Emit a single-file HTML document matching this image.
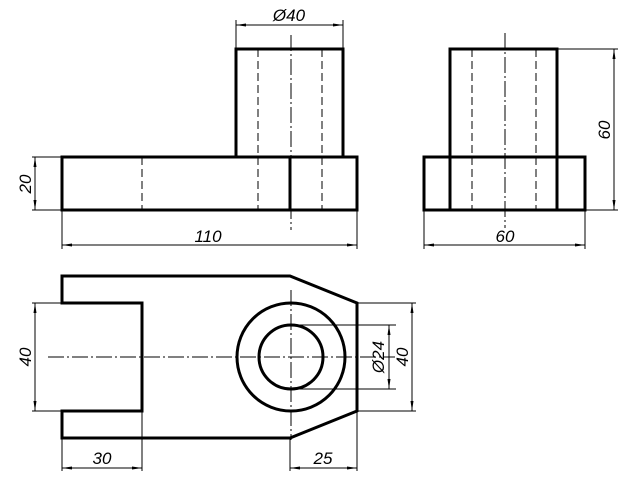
<!DOCTYPE html>
<html><head><meta charset="utf-8"><style>html,body{margin:0;padding:0;background:#fff}svg{display:block}</style></head><body>
<svg width="640" height="480" viewBox="0 0 640 480" xmlns="http://www.w3.org/2000/svg">
<defs>
<marker id="a" viewBox="0 0 10 4" refX="10" refY="2" markerWidth="10" markerHeight="4" markerUnits="userSpaceOnUse" orient="auto-start-reverse"><path d="M0,0.5 L10,2 L0,3.5 z" fill="#000"/></marker>
</defs>
<g fill="none" stroke="#000" stroke-width="3" stroke-linejoin="miter">
<rect x="62" y="157" width="295" height="53"/>
<rect x="236" y="49" width="107" height="108"/>
<line x1="290" y1="157" x2="290" y2="210"/>
<rect x="424" y="157" width="161" height="53"/>
<rect x="450" y="49" width="107" height="108"/>
<line x1="450" y1="157" x2="450" y2="210"/>
<line x1="557" y1="157" x2="557" y2="210"/>
<path d="M62,276 L290,276 L357,303 L357,411 L290,438 L62,438 L62,411 L142,411 L142,303 L62,303 Z"/>
<circle cx="291" cy="357" r="54"/>
<circle cx="291" cy="357" r="32"/>
</g>
<g fill="none" stroke="#000" stroke-width="1" stroke-dasharray="8,4">
<line x1="142" y1="157" x2="142" y2="210"/>
<line x1="258" y1="49" x2="258" y2="210"/>
<line x1="322" y1="49" x2="322" y2="210"/>
<line x1="472" y1="49" x2="472" y2="210"/>
<line x1="536" y1="49" x2="536" y2="210"/>
</g>
<g fill="none" stroke="#000" stroke-width="1" stroke-dasharray="16,3,2,3">
<line x1="291" y1="35" x2="291" y2="230"/>
<line x1="505" y1="33" x2="505" y2="228"/>
<line x1="48" y1="357" x2="395" y2="357"/>
<line x1="291" y1="290" x2="291" y2="440"/>
</g>
<g fill="none" stroke="#000" stroke-width="1">
<line x1="236" y1="20" x2="236" y2="49"/><line x1="343" y1="20" x2="343" y2="49"/>
<line x1="32" y1="157" x2="62" y2="157"/><line x1="32" y1="210" x2="62" y2="210"/>
<line x1="62" y1="210" x2="62" y2="249"/><line x1="357" y1="210" x2="357" y2="249"/>
<line x1="424" y1="210" x2="424" y2="249"/><line x1="585" y1="210" x2="585" y2="249"/>
<line x1="557" y1="49" x2="618" y2="49"/><line x1="585" y1="210" x2="618" y2="210"/>
<line x1="32" y1="303" x2="62" y2="303"/><line x1="32" y1="411" x2="62" y2="411"/>
<line x1="62" y1="438" x2="62" y2="471"/><line x1="142" y1="411" x2="142" y2="471"/>
<line x1="290" y1="438" x2="290" y2="471"/><line x1="357" y1="411" x2="357" y2="471"/>
<line x1="291" y1="325" x2="396" y2="325"/><line x1="291" y1="389" x2="396" y2="389"/>
<line x1="357" y1="303" x2="416" y2="303"/><line x1="357" y1="411" x2="416" y2="411"/>
<line x1="236" y1="25" x2="343" y2="25" marker-start="url(#a)" marker-end="url(#a)"/>
<line x1="35" y1="157" x2="35" y2="210" marker-start="url(#a)" marker-end="url(#a)"/>
<line x1="62" y1="245" x2="357" y2="245" marker-start="url(#a)" marker-end="url(#a)"/>
<line x1="424" y1="245" x2="585" y2="245" marker-start="url(#a)" marker-end="url(#a)"/>
<line x1="614" y1="49" x2="614" y2="210" marker-start="url(#a)" marker-end="url(#a)"/>
<line x1="35" y1="303" x2="35" y2="411" marker-start="url(#a)" marker-end="url(#a)"/>
<line x1="62" y1="468" x2="142" y2="468" marker-start="url(#a)" marker-end="url(#a)"/>
<line x1="290" y1="468" x2="357" y2="468" marker-start="url(#a)" marker-end="url(#a)"/>
<line x1="389" y1="325" x2="389" y2="389" marker-start="url(#a)" marker-end="url(#a)"/>
<line x1="412" y1="303" x2="412" y2="411" marker-start="url(#a)" marker-end="url(#a)"/>
</g>
<g font-family="Liberation Sans, DejaVu Sans, sans-serif" font-size="17" font-style="italic" fill="#000" text-anchor="middle">
<text x="289" y="21">Ø40</text>
<text x="208" y="242">110</text>
<text x="505" y="242">60</text>
<text x="102" y="464">30</text>
<text x="323" y="464">25</text>
<text transform="translate(31,184) rotate(-90)">20</text>
<text transform="translate(610,130) rotate(-90)">60</text>
<text transform="translate(31,357) rotate(-90)">40</text>
<text transform="translate(384,357) rotate(-90)">Ø24</text>
<text transform="translate(408,357) rotate(-90)">40</text>
</g>
</svg>
</body></html>
